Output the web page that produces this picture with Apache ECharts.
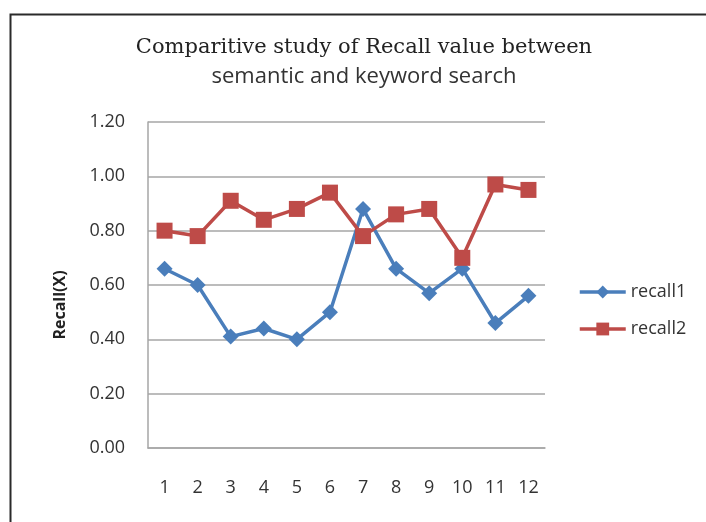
<!DOCTYPE html>
<html><head><meta charset="utf-8">
<script src="https://cdn.jsdelivr.net/npm/echarts@6/dist/echarts.min.js"></script>
<style>html,body{margin:0;padding:0;background:#fff}#c{width:706px;height:522px}</style>
</head><body><div id="c"></div>
<script>
const categories = ['1','2','3','4','5','6','7','8','9','10','11','12'];
const recall1 = [0.66,0.60,0.41,0.44,0.40,0.50,0.88,0.66,0.57,0.66,0.46,0.56];
const recall2 = [0.80,0.78,0.91,0.84,0.88,0.94,0.78,0.86,0.88,0.70,0.97,0.95];
const seriesNames = ['recall1','recall2'];
const titleLines = ['Comparitive study of Recall value between','semantic and keyword search'];
const yName = 'Recall(X)';

const sans = 'Open Sans, Liberation Sans, sans-serif';
const chart = echarts.init(document.getElementById('c'));
chart.setOption({
  animation:false,
  backgroundColor:'#fff',
  graphic:[{type:'rect',left:8,top:12,shape:{width:740,height:560},style:{fill:'none',stroke:'#2a2a2a',lineWidth:2},silent:true}],
  title:[
    {text:titleLines[0],top:37,left:364,textAlign:'center',padding:0,
     textStyle:{fontFamily:'DejaVu Serif, Liberation Serif, serif',fontSize:21,fontWeight:'normal',color:'#222'}},
    {text:titleLines[1],top:66,left:364,textAlign:'center',padding:0,
     textStyle:{fontFamily:sans,fontSize:22,fontWeight:'normal',color:'#333'}}
  ],
  grid:{left:148,right:161,top:122,bottom:74,containLabel:false},
  legend:{
    orient:'vertical',left:573,top:278,itemGap:19,itemWidth:46,itemHeight:16,
    lineStyle:{width:3.5},
    textStyle:{fontFamily:sans,fontSize:18,color:'#333'},
    data:seriesNames
  },
  xAxis:{
    type:'category',data:categories,boundaryGap:true,
    axisLine:{lineStyle:{color:'#a6a6a6',width:1.5}},
    axisTick:{show:false},
    axisLabel:{margin:31,fontFamily:sans,fontSize:18,color:'#333'}
  },
  yAxis:{
    type:'value',min:0,max:1.2,interval:0.2,
    name:yName,nameLocation:'middle',nameGap:80,
    nameTextStyle:{fontFamily:sans,fontSize:16,fontWeight:'bold',color:'#222',padding:[0,0,0,-40]},
    axisLine:{show:true,lineStyle:{color:'#a6a6a6',width:1.5}},
    axisTick:{show:false},
    splitLine:{lineStyle:{color:'#a6a6a6',width:1.5}},
    axisLabel:{margin:23,formatter:v=>v.toFixed(2),fontFamily:sans,fontSize:18,color:'#333'}
  },
  series:[
    {name:seriesNames[0],type:'line',data:recall1,symbol:'diamond',symbolSize:16,
     lineStyle:{color:'#4a7ebb',width:3.5},itemStyle:{color:'#4a7ebb'}},
    {name:seriesNames[1],type:'line',data:recall2,symbol:'rect',symbolSize:16,
     lineStyle:{color:'#be4b48',width:3.5},itemStyle:{color:'#be4b48'}}
  ]
});
</script></body></html>
